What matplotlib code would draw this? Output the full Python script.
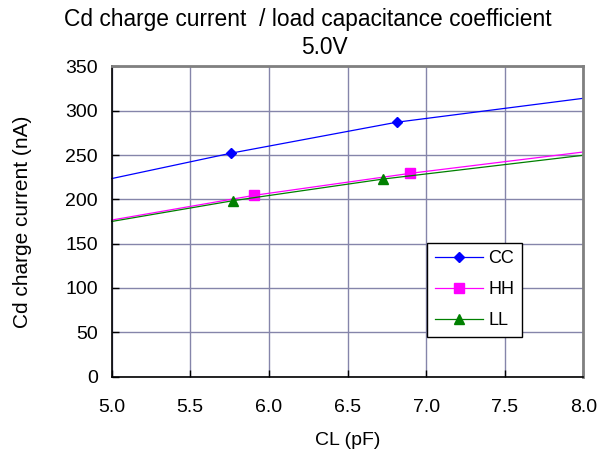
import matplotlib
matplotlib.use("Agg")
import matplotlib.pyplot as plt

plt.rcParams['font.family'] = ['Liberation Sans', 'DejaVu Sans']

# trend line ends at CL=5 and CL=8, markers at measured points
cl_cc = [5.0, 5.757, 6.813, 8.0]
cc = [223.4, 252, 287, 314]
cl_hh = [5.0, 5.907, 6.898, 8.0]
hh = [176.6, 204.5, 229.3, 253.4]
cl_ll = [5.0, 5.774, 6.728, 8.0]
ll = [175.0, 198.5, 222.9, 249.7]

xticks = [5.0, 5.5, 6.0, 6.5, 7.0, 7.5, 8.0]
yticks = [0, 50, 100, 150, 200, 250, 300, 350]

fig = plt.figure(figsize=(6.13, 4.57), dpi=100)
ax = fig.add_axes([0.1822, 0.1761, 0.7694, 0.6786])

ax.plot(cl_cc, cc, color='#0000FF', lw=0.9, marker='D', ms=5, markevery=[1, 2], label='CC', clip_on=False)
ax.plot(cl_hh, hh, color='#FF00FF', lw=0.9, marker='s', ms=7, markevery=[1, 2], label='HH', clip_on=False)
ax.plot(cl_ll, ll, color='#008000', lw=0.9, marker='^', ms=7, markevery=[1, 2], label='LL', clip_on=False)

ax.set_xlim(5.0, 8.0)
ax.set_ylim(0, 350)
ax.set_xticks(xticks)
ax.set_xticklabels([f'{v:.1f}' for v in xticks])
ax.set_yticks(yticks)
ax.grid(True, color='#8585aa', lw=1.0)
ax.set_axisbelow(True)
ax.tick_params(direction='in', length=5, width=1, labelsize=14)
ax.tick_params(axis='x', pad=16)
ax.tick_params(axis='y', pad=10)

for s in ['left', 'bottom']:
    ax.spines[s].set_color('#000000')
    ax.spines[s].set_linewidth(1.2)
for s in ['top', 'right']:
    ax.spines[s].set_color('#808080')
    ax.spines[s].set_linewidth(2.0)

ax.set_xlabel('CL (pF)', fontsize=14, va='center')
ax.xaxis.set_label_coords(0.5, -0.205)
ax.set_ylabel('Cd charge current (nA)', fontsize=15, va='center')
ax.yaxis.set_label_coords(-0.19, 0.5)

fig.text(0.502, 0.958, 'Cd charge current  / load capacitance coefficient', fontsize=16.4, ha='center', va='center')
fig.text(0.530, 0.897, '5.0V', fontsize=16.4, ha='center', va='center')

leg = ax.legend(loc='lower left', bbox_to_anchor=(0.6686, 0.1274), fontsize=13, frameon=True,
                fancybox=False, edgecolor='black', framealpha=1, borderpad=0.42,
                labelspacing=0.78, handlelength=2.66, handletextpad=0.3, borderaxespad=0)
leg.get_frame().set_linewidth(1.0)

fig.savefig('out.png', dpi=100)
